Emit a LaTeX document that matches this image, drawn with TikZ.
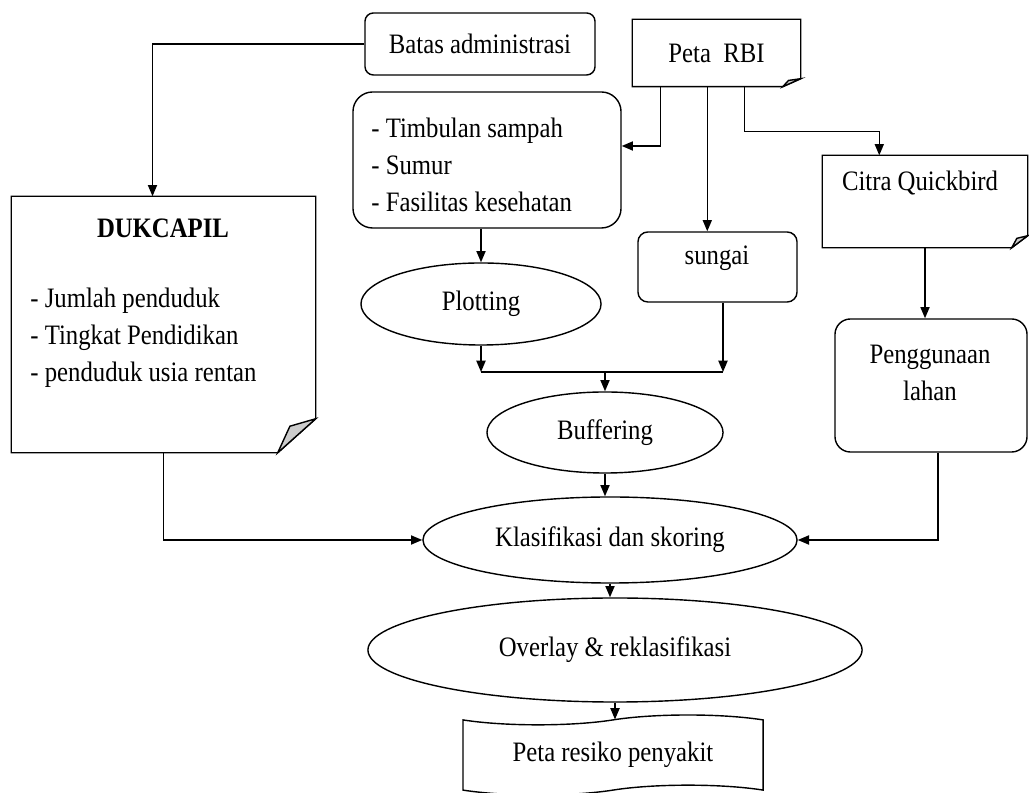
\documentclass[tikz,border=0pt]{standalone}
\usepackage{fontspec}
\setmainfont{Liberation Serif}[FakeStretch=0.88]
\usetikzlibrary{
    arrows.meta,
    shapes,
    calc,
    positioning
}
\tikzset{
    every node/.style={font=\fontsize{20}{26.3}\selectfont},
    rbox/.style={draw, rounded corners=7pt, inner sep=0pt},
    paper/.style={rectangle, inner sep=0pt},
    oval/.style={ellipse, draw, inner sep=0pt},
    scroll/.style={tape, draw, inner sep=0pt, tape bend height=7pt}
}
% sheet with a turned-down corner
\newcommand{\foldbox}[3]{%
    \draw (#1.north west) -- (#1.north east) -- ($(#1.south east)+(0,#3)$)
        -- ($(#1.south east)+(-#2,0)$) -- (#1.south west) -- cycle;
    \draw[fill=gray!40] ($(#1.south east)+(0,#3)$) -- ($(#1.south east)+(-0.68*#2,0.78*#3)$)
        -- ($(#1.south east)+(-#2,0)$) -- cycle;
}

\begin{document}
\begin{tikzpicture}[x=0.025cm, y=0.025cm, line width=1pt, >={Triangle[length=8pt,width=6.5pt]}]
    \useasboundingbox (0,0) rectangle (1029,793);
    \clip (0,0) rectangle (1029,793);

    \node[rbox, rounded corners=6pt, minimum width=5.75cm, minimum height=1.55cm] (batas) at (480,749) {Batas administrasi};
    \node[paper, minimum width=4.175cm, minimum height=1.65cm] (rbi) at (716.5,740) {Peta\ \ RBI};
    \foldbox{rbi}{18}{8}
    \node[rbox, rounded corners=14pt, minimum width=6.7cm, minimum height=3.4cm] (timb) at (487,633) {};
    \node[anchor=west, align=left] (timbtxt) at (366,628) {- Timbulan sampah\\- Sumur\\- Fasilitas kesehatan};
    \node[paper, minimum width=5.1cm, minimum height=2.275cm] (citra) at (925,591.5) {};
    \foldbox{citra}{16}{12}
    \node (citratxt) at (920,610) {Citra Quickbird};
    \node[rbox, minimum width=3.975cm, minimum height=1.75cm] (sungai) at (717.5,526) {};
    \node (sungaitxt) at (717,535) {sungai};
    \node[oval, minimum width=6cm, minimum height=2.05cm] (plot) at (481,489) {Plotting};
    \node[oval, minimum width=5.9cm, minimum height=2.025cm] (buf) at (605,360.5) {Buffering};
    \node[oval, minimum width=9.35cm, minimum height=2.15cm] (klas) at (610,253) {Klasifikasi dan skoring};
    \node[paper, minimum width=7.575cm, minimum height=6.375cm] (duk) at (163.5,468.5) {};
    \foldbox{duk}{38}{34}
    \node[font=\fontsize{20}{26.3}\selectfont\bfseries] (duktitle) at (163,565) {DUKCAPIL};
    \node[anchor=west, align=left] (duklist) at (25,455) {- Jumlah penduduk\\- Tingkat Pendidikan\\- penduduk usia rentan};
    \node[rbox, rounded corners=11pt, minimum width=4.8cm, minimum height=3.325cm] (peng) at (931,407.5) {};
    \node[align=center] (pengtxt) at (930,420.5) {Penggunaan\\lahan};
    \node[oval, minimum width=12.35cm, minimum height=2.6cm] (ov) at (615,143) {Overlay \& reklasifikasi};
    \node[scroll, minimum width=7.5cm, minimum height=2cm] (doc) at (613,38) {Peta resiko penyakit};

    \draw[->] (batas.west) -| ($(duk.north)+(-11,0)$);
    \coordinate (r1) at ($(rbi.south west)+(28,0)$);
    \coordinate (r2) at ($(rbi.south west)+(75,0)$);
    \coordinate (r3) at ($(rbi.south west)+(112,0)$);
    \draw[->] (r1) |- ($(timb.east)+(0,14)$);
    \draw[->] (r2) -- (r2 |- sungai.north);
    \draw[->] (r3) -- ++(0,-45) -| ($(citra.north west)+(57,0)$);
    \draw[->] (timb.south -| plot.north) -- (plot.north);
    \coordinate (join) at (605,421);
    \coordinate (sg) at ($(sungai.south)+(5.5,0)$);
    \draw[->] (plot.south) -- (plot.south |- join);
    \draw[->] (sg) -- (sg |- join);
    \draw (plot.south |- join) -- (sg |- join);
    \draw[->] (join) -- (buf.north);
    \draw[->] (buf.south) -- (buf.south |- klas.north);
    \draw[->] (duk.south) |- (klas.west);
    \draw[->] (citra.south) -- (citra.south |- peng.north);
    \coordinate (pg) at ($(peng.south)+(7,0)$);
    \draw[->] (pg) |- (klas.east);
    \draw[->] (klas.south) -- (klas.south |- ov.north);
    \draw[->] (ov.south) -- (ov.south |- doc.north);
\end{tikzpicture}
\end{document}
